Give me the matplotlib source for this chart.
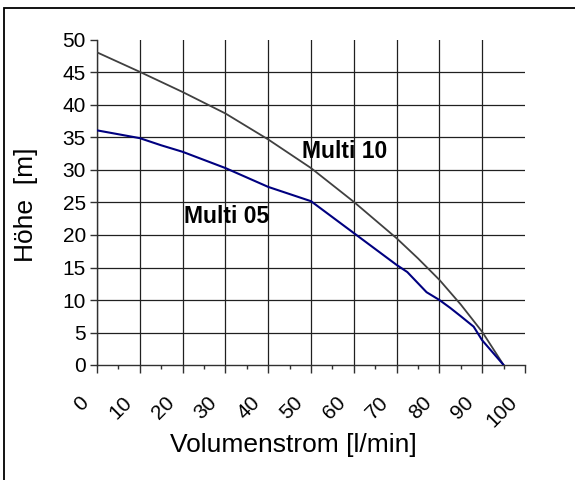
import matplotlib
matplotlib.use("Agg")
import matplotlib.pyplot as plt
from matplotlib.patches import Rectangle
from matplotlib.transforms import ScaledTranslation

plt.rcParams['font.family'] = ['Liberation Sans', 'DejaVu Sans']

# Kennlinien
q_10 = [0, 10, 20, 30, 40, 50, 60, 70, 75, 80, 85, 90, 95]
h_10 = [48.1, 45.1, 42.0, 38.7, 34.7, 30.3, 25.1, 19.5, 16.4, 13.1, 9.3, 5.1, 0]
q_05 = [0, 10, 15, 20, 30, 40, 50, 60, 70, 72.5, 77, 80, 82.5, 85, 88, 90, 95]
h_05 = [36.1, 34.9, 33.8, 32.8, 30.3, 27.4, 25.2, 20.3, 15.4, 14.3, 11.2, 10.0, 8.8, 7.5, 5.9, 3.8, 0]
x_ticks = list(range(0, 101, 10))
y_ticks = list(range(0, 51, 5))

fig = plt.figure(figsize=(5.75, 4.8), dpi=100)
ax = fig.add_axes([97/575, 1 - 365/480, 428/575, 325/480])

# Rahmen um das Diagramm (nur oben/links sichtbar)
fig.patches.append(Rectangle((4/575, -0.1), 1.2, 1 - 8/480 + 0.1, transform=fig.transFigure,
                             fill=False, edgecolor='black', linewidth=1.3, zorder=0))

ax.plot(q_10, h_10, color='#404040', lw=1.3, zorder=3)
ax.plot(q_05, h_05, color='#000080', lw=1.5, zorder=3)

ax.set_xlim(0, 100)
ax.set_ylim(0, 50)
ax.set_xticks(x_ticks)
ax.set_xticks([x + 5 for x in x_ticks[:-1]], minor=True)
ax.set_yticks(y_ticks)
ax.set_xticklabels([str(x) for x in x_ticks], rotation=45, ha='right', va='center',
                   rotation_mode='anchor', fontsize=15)
ax.set_yticklabels([str(y) for y in y_ticks], fontsize=15)
ax.tick_params(axis='x', which='major', length=6, width=1, color='#303030', pad=19)
ax.tick_params(axis='x', which='minor', length=3, width=1, color='#303030')
ax.tick_params(axis='y', length=5, width=1, color='#303030', pad=3)

shift = ScaledTranslation(-8/72, 0, fig.dpi_scale_trans)
for lab in ax.get_xticklabels():
    lab.set_transform(lab.get_transform() + shift)

# Gitter ohne Linie bei x=100 und y=50
for x in x_ticks[:-1]:
    ax.axvline(x, color='#202020', lw=0.9, zorder=1)
for y in y_ticks[1:-1]:
    ax.axhline(y, color='#202020', lw=0.9, zorder=1)

for s in ['top', 'right']:
    ax.spines[s].set_visible(False)
for s in ['left', 'bottom']:
    ax.spines[s].set_color('#303030')
    ax.spines[s].set_linewidth(1)

ax.text(47.9, 31.8, 'Multi 10', fontsize=16.5, fontweight='bold', zorder=4)
ax.text(20.3, 21.9, 'Multi 05', fontsize=16.5, fontweight='bold', zorder=4)

fig.text(293/575, 1 - 445/480, 'Volumenstrom [l/min]', fontsize=19, ha='center', va='center')
fig.text(26/575, 1 - 205/480, 'Höhe  [m]', fontsize=19, ha='center', va='center', rotation=90)

fig.savefig('out.png', dpi=100)
